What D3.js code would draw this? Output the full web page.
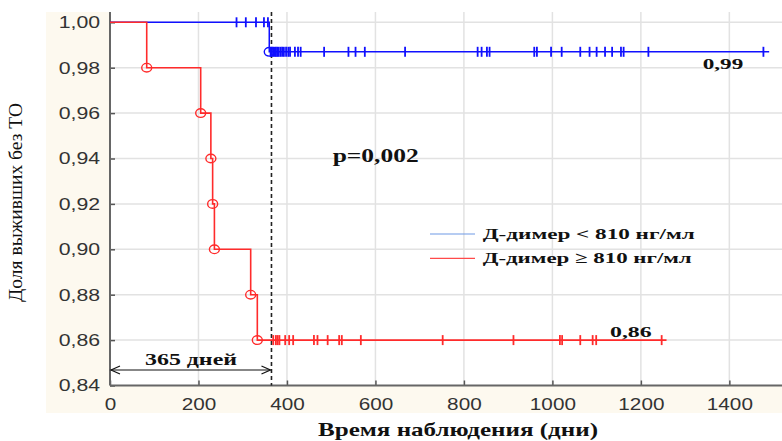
<!DOCTYPE html>
<html>
<head>
<meta charset="utf-8">
<script src="https://cdn.jsdelivr.net/npm/d3@7"></script>
<style>
  body { margin: 0; background: #fff; }
  svg { display: block; }
</style>
</head>
<body>
<svg id="chart" width="782" height="441"></svg>
<script>
// Kaplan–Meier curves: thrombotic-event-free survival by D-dimer level

// Axis ticks
const xTicks = [0, 200, 400, 600, 800, 1000, 1200, 1400];
const yTicks = [0.84, 0.86, 0.88, 0.90, 0.92, 0.94, 0.96, 0.98, 1.00];

// Group "Д-димер < 810 нг/мл": event times (days) and survival after each step
const lowTimes = [0, 360];
const lowSurvival = [1.00, 0.987];
const lowFollowUpEnd = 1490;
const lowCensored = [286, 307, 330, 348, 357, 363, 366, 369, 372, 375, 378, 381, 385, 389,
  393, 398, 403, 407, 418, 425, 431, 484, 539, 555, 576, 667, 831, 840, 852, 858, 959, 965,
  997, 1021, 1063, 1084, 1100, 1119, 1135, 1155, 1161, 1217, 1477];

// Group "Д-димер ≥ 810 нг/мл"
const highTimes = [0, 83, 205, 228, 232, 236, 318, 333];
const highSurvival = [1.00, 0.98, 0.96, 0.94, 0.92, 0.90, 0.88, 0.86];
const highFollowUpEnd = 1258;
const highCensored = [369, 375, 379, 383, 396, 405, 414, 461, 469, 492, 518, 524, 567, 752,
  912, 1017, 1022, 1063, 1091, 1099, 1247];

const seriesNames = ["Д-димер < 810 нг/мл", "Д-димер ≥ 810 нг/мл"];
const markDay = 365;
const pValueText = "p=0,002";

const svg = d3.select("#chart");
const W = 782, H = 441;
const plot = { left: 110, top: 12, right: 782, bottom: 385.5 };

const x = d3.scaleLinear().domain([0, 1519]).range([plot.left, plot.right]);
const y = d3.scaleLinear().domain([0.84, 1.00]).range([plot.bottom, 22.3]);

const comma = v => d3.format(".2f")(v).replace(".", ",");
const SERIF = "'Liberation Serif', 'Times New Roman', serif";
const SANS = "'Liberation Sans', Arial, sans-serif";

// Backgrounds: cream frame around the white plotting area
svg.append("rect").attr("x", 46).attr("y", plot.top).attr("width", W - 46).attr("height", 413 - plot.top)
  .attr("fill", "#fdf9ef");
svg.append("rect").attr("x", plot.left).attr("y", plot.top)
  .attr("width", plot.right - plot.left).attr("height", plot.bottom - plot.top).attr("fill", "#fff");

// Grid
const grid = svg.append("g").attr("stroke", "#e2e2e2").attr("stroke-width", 1.5);
grid.selectAll("line.v").data(xTicks.filter(d => d > 0)).join("line")
  .attr("x1", d => x(d)).attr("x2", d => x(d)).attr("y1", plot.top).attr("y2", plot.bottom);
grid.selectAll("line.h").data(yTicks.filter(d => d > 0.84)).join("line")
  .attr("x1", plot.left).attr("x2", plot.right).attr("y1", d => y(d)).attr("y2", d => y(d));

// Axes (ticks point inward)
const yAxis = d3.axisLeft(y).tickValues(yTicks).tickFormat(comma)
  .tickSizeInner(-5).tickSizeOuter(0).tickPadding(8);
const xAxis = d3.axisBottom(x).tickValues(xTicks).tickFormat(d3.format("d"))
  .tickSizeInner(-5).tickSizeOuter(0).tickPadding(12.5);

const gy = svg.append("g").attr("transform", `translate(${plot.left},0)`).call(yAxis);
const gx = svg.append("g").attr("transform", `translate(0,${plot.bottom})`).call(xAxis);
[gx, gy].forEach(g => {
  g.select(".domain").remove();
  g.selectAll(".tick line").attr("stroke", "#555").attr("stroke-width", 1.5);
  g.selectAll(".tick text").attr("font-family", SANS).attr("font-size", 17).attr("fill", "#333");
});
gy.selectAll(".tick text").attr("transform", "scale(1.25,1)");
gx.selectAll(".tick text").attr("transform", "scale(1.22,1)");
svg.append("line").attr("x1", plot.left).attr("x2", plot.left).attr("y1", plot.top).attr("y2", plot.bottom)
  .attr("stroke", "#666").attr("stroke-width", 2);
svg.append("line").attr("x1", plot.left).attr("x2", plot.right).attr("y1", plot.bottom).attr("y2", plot.bottom)
  .attr("stroke", "#666").attr("stroke-width", 2);

// Axis titles
svg.append("text")
  .attr("transform", `translate(22,${(103 + 302) / 2}) rotate(-90)`)
  .attr("text-anchor", "middle").attr("font-family", SERIF).attr("font-size", 19.5)
  .attr("textLength", 199).attr("lengthAdjust", "spacingAndGlyphs")
  .attr("fill", "#111").text("Доля выживших без ТО");
svg.append("text")
  .attr("x", 458).attr("y", 436).attr("text-anchor", "middle")
  .attr("font-family", SERIF).attr("font-weight", "bold").attr("font-size", 19.5)
  .attr("textLength", 280).attr("lengthAdjust", "spacingAndGlyphs")
  .attr("fill", "#111").text("Время наблюдения (дни)");

// Dashed reference line at one year
svg.append("line").attr("x1", x(markDay)).attr("x2", x(markDay))
  .attr("y1", plot.top).attr("y2", plot.bottom)
  .attr("stroke", "#222").attr("stroke-width", 1.6).attr("stroke-dasharray", "4,3");

// Step-function helpers
function stepPoints(times, surv, end) {
  const pts = times.map((t, i) => [t, surv[i]]);
  pts.push([end, surv[surv.length - 1]]);
  return pts;
}
function levelAt(times, surv, t) {
  let s = surv[0];
  times.forEach((tt, i) => { if (tt <= t) s = surv[i]; });
  return s;
}
const line = d3.line().x(d => x(d[0])).y(d => y(d[1])).curve(d3.curveStepAfter);

function drawCurve(times, surv, end, censored, color, width) {
  const g = svg.append("g");
  g.append("path").datum(stepPoints(times, surv, end)).attr("d", line)
    .attr("fill", "none").attr("stroke", color).attr("stroke-width", width);
  g.selectAll("line.cens").data(censored).join("line")
    .attr("x1", d => x(d)).attr("x2", d => x(d))
    .attr("y1", d => y(levelAt(times, surv, d)) - 5).attr("y2", d => y(levelAt(times, surv, d)) + 5)
    .attr("stroke", color).attr("stroke-width", 1.8);
  g.selectAll("ellipse.ev").data(times.slice(1)).join("ellipse")
    .attr("cx", d => x(d)).attr("cy", (d, i) => y(surv[i + 1]))
    .attr("rx", 5).attr("ry", 4.3)
    .attr("fill", "none").attr("stroke", color).attr("stroke-width", 1.4);
  return g;
}
drawCurve(lowTimes, lowSurvival, lowFollowUpEnd, lowCensored, "#1010ff", 1.5);
drawCurve(highTimes, highSurvival, highFollowUpEnd, highCensored, "#ff2b2b", 1.6);

// End-of-follow-up survival labels
const boldText = (tx, ty, str, len, size) => svg.append("text")
  .attr("x", tx).attr("y", ty).attr("font-family", SERIF).attr("font-weight", "bold")
  .attr("font-size", size).attr("textLength", len).attr("lengthAdjust", "spacingAndGlyphs")
  .attr("fill", "#111").text(str);
boldText(702.7, 68.5, comma(lowSurvival[lowSurvival.length - 1]), 40.6, 15.5);
boldText(610, 336.7, comma(highSurvival[highSurvival.length - 1]), 41.7, 15.5);
boldText(332.7, 161.7, pValueText, 86, 18);

// One-year span annotation
boldText(145, 364.5, `${markDay} дней`, 92, 16);
const arrowY = 370;
const ax0 = x(0) + 1, ax1 = x(markDay) - 1;
const arrow = svg.append("g").attr("stroke", "#111").attr("stroke-width", 1.2).attr("fill", "none");
arrow.append("line").attr("x1", ax0).attr("x2", ax1).attr("y1", arrowY).attr("y2", arrowY);
arrow.append("path").attr("d", `M${ax0 + 9},${arrowY - 4} L${ax0},${arrowY} L${ax0 + 9},${arrowY + 4}`);
arrow.append("path").attr("d", `M${ax1 - 9},${arrowY - 4} L${ax1},${arrowY} L${ax1 - 9},${arrowY + 4}`);

// Legend
const legend = svg.append("g");
const legendRows = [
  { name: seriesNames[0], color: "#6f9ae6", ly: 234, ty: 238.5, len: 212 },
  { name: seriesNames[1], color: "#ff4a4a", ly: 258.3, ty: 263, len: 209 }
];
legendRows.forEach(r => {
  legend.append("line").attr("x1", 430).attr("x2", 475).attr("y1", r.ly).attr("y2", r.ly)
    .attr("stroke", r.color).attr("stroke-width", 1.2);
  legend.append("text").attr("x", 482.7).attr("y", r.ty)
    .attr("font-family", SERIF).attr("font-weight", "bold").attr("font-size", 15.5)
    .attr("textLength", r.len).attr("lengthAdjust", "spacingAndGlyphs")
    .attr("fill", "#111").text(r.name);
});
</script>
</body>
</html>
